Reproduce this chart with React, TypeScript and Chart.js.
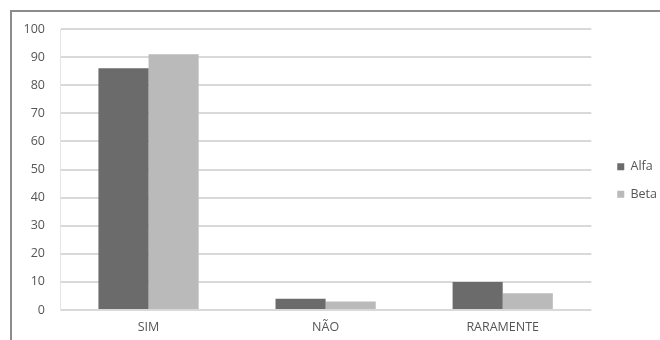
import React, { useEffect, useRef } from "react";
import { Chart, registerables } from "chart.js";

Chart.register(...registerables);

const categories = ["SIM", "NÃO", "RARAMENTE"];
const alfaValues = [86, 4, 10];
const betaValues = [91, 3, 6];
const yTicks = [0, 10, 20, 30, 40, 50, 60, 70, 80, 90, 100];

const FONT = { family: "'Open Sans', sans-serif", size: 12.5 };

const framePlugin = {
  id: "frame",
  afterLayout(chart: any) {
    const lg = chart.legend;
    if (lg) {
      lg.left += 11;
      lg.right += 11;
      lg.top -= 4;
      lg.bottom -= 4;
    }
  },
  beforeDraw(chart: any) {
    const ctx = chart.ctx;
    ctx.save();
    ctx.fillStyle = "#ffffff";
    ctx.fillRect(0, 0, chart.width, chart.height);
    ctx.strokeStyle = "#8c8c8c";
    ctx.lineWidth = 2;
    ctx.beginPath();
    ctx.moveTo(11, chart.height);
    ctx.lineTo(11, 11);
    ctx.lineTo(chart.width, 11);
    ctx.stroke();
    ctx.restore();
  },
};

export default function App() {
  const ref = useRef<HTMLCanvasElement>(null);
  useEffect(() => {
    document.body.style.margin = "0";
    const chart = new Chart(ref.current!, {
      type: "bar",
      data: {
        labels: categories,
        datasets: [
          {
            label: "Alfa",
            data: alfaValues,
            backgroundColor: "#6b6b6b",
            categoryPercentage: 0.566,
            barPercentage: 1,
          },
          {
            label: "Beta",
            data: betaValues,
            backgroundColor: "#bababa",
            categoryPercentage: 0.566,
            barPercentage: 1,
          },
        ],
      },
      options: {
        animation: false,
        responsive: false,
        maintainAspectRatio: false,
        layout: { padding: { top: 29, bottom: 0, left: 14, right: 4 } },
        plugins: {
          tooltip: { enabled: false },
          legend: {
            position: "right",
            align: "center",
            labels: {
              boxWidth: 7,
              boxHeight: 7,
              padding: 15,
              color: "#555555",
              font: FONT,
            },
          },
        },
        scales: {
          x: {
            grid: { display: false, drawTicks: false },
            border: { display: false },
            afterFit(axis: any) {
              axis.height = 30;
            },
            ticks: {
              color: "#555555",
              padding: 10,
              font: FONT,
            },
          },
          y: {
            min: 0,
            max: 100,
            afterBuildTicks(axis: any) {
              axis.ticks = yTicks.map((v) => ({ value: v }));
            },
            afterFit(axis: any) {
              axis.width = 46;
            },
            grid: { color: "#d9d9d9", lineWidth: 2, drawTicks: false },
            border: { display: true, color: "#e4e4e4", width: 1 },
            ticks: {
              color: "#555555",
              padding: 15,
              font: FONT,
            },
          },
        },
      },
      plugins: [framePlugin],
    });
    return () => chart.destroy();
  }, []);
  return (
    <div style={{ position: "absolute", left: 0, top: 0, width: 660, height: 340 }}>
      <canvas ref={ref} width={660} height={340} style={{ width: 660, height: 340 }} />
    </div>
  );
}
